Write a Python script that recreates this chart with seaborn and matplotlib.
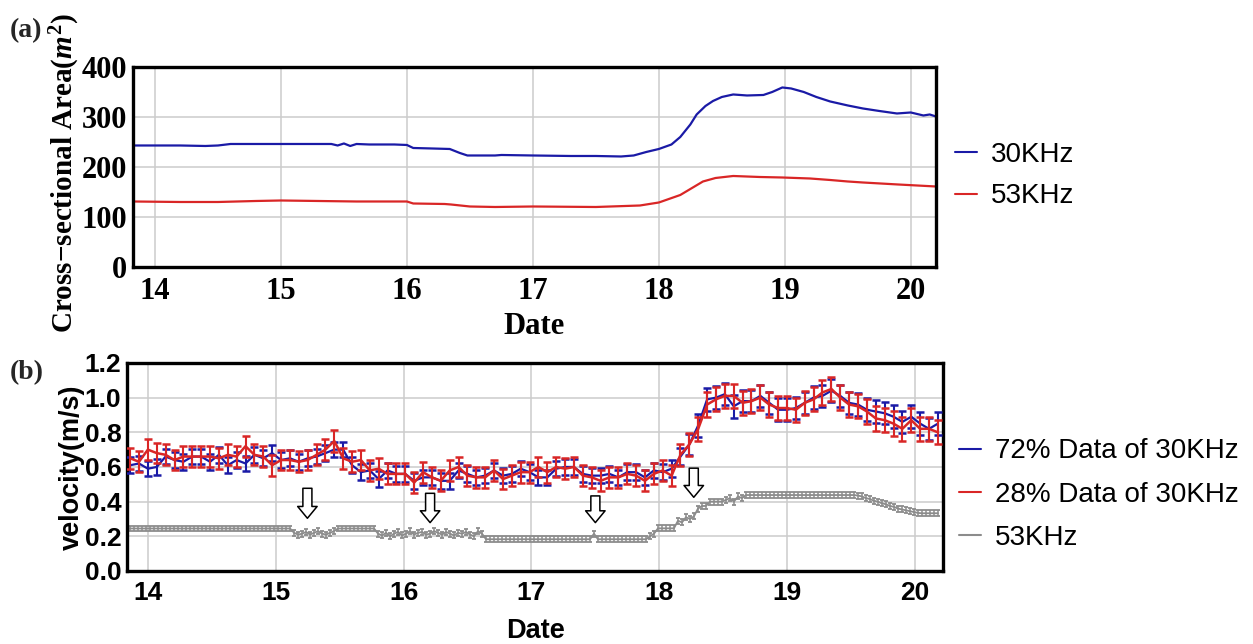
import numpy as np
import pandas as pd
import matplotlib
matplotlib.use("Agg")
import matplotlib.pyplot as plt
from matplotlib.font_manager import FontProperties
from matplotlib.lines import Line2D
import seaborn as sns

# ---------------- data: panel (a) cross-sectional area ----------------
area_day_30 = [13.83, 14.0, 14.2, 14.4, 14.5, 14.6, 14.8, 15.0, 15.2, 15.4, 15.45, 15.5, 15.55,
               15.6, 15.7, 15.9, 16.0, 16.05, 16.2, 16.34, 16.42, 16.48, 16.7, 16.75, 17.0, 17.3,
               17.5, 17.7, 17.8, 17.9, 18.0, 18.1, 18.17, 18.25, 18.3, 18.37, 18.43, 18.5, 18.59,
               18.7, 18.83, 18.9, 18.98, 19.05, 19.15, 19.25, 19.36, 19.5, 19.62, 19.75, 19.89,
               20.0, 20.1, 20.15, 20.2]
area_30 = [243, 243, 243, 242, 243, 246, 246, 246, 246, 246, 243, 247, 242,
           246, 245, 245, 244, 238, 237, 236, 228, 223, 223, 224, 223, 222,
           222, 221, 223, 230, 236, 245, 260, 285, 305, 322, 332, 340, 345,
           343, 344, 350, 359, 357, 350, 340, 331, 323, 317, 312, 307,
           309, 303, 305, 301]

area_day_53 = [13.83, 14.2, 14.5, 14.8, 15.0, 15.3, 15.6, 16.0, 16.05, 16.3, 16.35, 16.5, 16.7,
               17.0, 17.5, 17.85, 18.0, 18.17, 18.35, 18.45, 18.59, 18.8, 18.98, 19.2, 19.36,
               19.5, 19.62, 19.9, 20.2]
area_53 = [131, 130, 130, 132, 133, 132, 131, 131, 127, 126, 125, 121, 120,
           121, 120, 123, 129, 144, 171, 178, 182, 180, 179, 177, 174,
           171, 169, 165, 161]

# ---------------- data: panel (b) velocity ----------------
vel_start, vel_end = 13.86, 20.18
vel_72 = [0.61, 0.62, 0.59, 0.60, 0.66, 0.64, 0.63, 0.66, 0.66, 0.63, 0.67, 0.61, 0.64, 0.62,
          0.67, 0.65, 0.68, 0.64, 0.65, 0.63, 0.65, 0.66, 0.68, 0.70,
          0.70, 0.61, 0.57, 0.58, 0.53, 0.58, 0.56, 0.56, 0.52, 0.54, 0.54, 0.52, 0.52, 0.58,
          0.56, 0.54, 0.55, 0.58, 0.55, 0.56, 0.59, 0.57, 0.54,
          0.54, 0.59, 0.60, 0.60, 0.56, 0.55, 0.55, 0.56, 0.54, 0.57, 0.57, 0.54, 0.58, 0.57,
          0.59, 0.66, 0.73, 0.84, 0.99, 1.00, 1.02, 0.95, 0.98,
          0.98, 1.01, 0.97, 0.93, 0.93, 0.94, 0.97, 1.00, 1.01, 1.04, 1.01, 0.97, 0.96, 0.93,
          0.92, 0.91, 0.89, 0.86, 0.89, 0.85, 0.82, 0.85]
err_72 = [0.045, 0.045, 0.045, 0.045, 0.045, 0.045, 0.045, 0.045, 0.045, 0.045, 0.045, 0.045,
          0.045, 0.045, 0.045, 0.045, 0.045, 0.045, 0.045, 0.045, 0.045, 0.045, 0.045, 0.045,
          0.045, 0.045, 0.045, 0.045, 0.045, 0.045, 0.045, 0.045, 0.045, 0.045, 0.045, 0.045,
          0.045, 0.045, 0.045, 0.045, 0.045, 0.045, 0.045, 0.045, 0.045, 0.045, 0.045, 0.045,
          0.045, 0.045, 0.045, 0.045, 0.045, 0.045, 0.045, 0.045, 0.045, 0.045, 0.045, 0.045,
          0.045, 0.05, 0.05, 0.06, 0.065, 0.065, 0.065, 0.065, 0.065, 0.065, 0.065, 0.065,
          0.065, 0.065, 0.065, 0.065, 0.065, 0.065, 0.065, 0.065, 0.065, 0.065, 0.065, 0.065,
          0.065, 0.065, 0.065, 0.065, 0.065, 0.065, 0.065, 0.065]
vel_28 = [0.65, 0.63, 0.70, 0.68, 0.67, 0.64, 0.66, 0.66, 0.66, 0.66, 0.65, 0.67, 0.66, 0.72,
          0.67, 0.66, 0.61, 0.64, 0.64, 0.63, 0.64, 0.67, 0.70, 0.75,
          0.65, 0.63, 0.64, 0.58, 0.59, 0.56, 0.56, 0.56, 0.51, 0.57, 0.54, 0.52, 0.58, 0.60,
          0.55, 0.54, 0.54, 0.58, 0.53, 0.55, 0.57, 0.57, 0.60,
          0.57, 0.60, 0.59, 0.60, 0.55, 0.54, 0.52, 0.54, 0.54, 0.56, 0.55, 0.52, 0.56, 0.58,
          0.55, 0.67, 0.73, 0.82, 0.96, 0.99, 1.01, 1.01, 0.97,
          0.98, 1.00, 0.96, 0.94, 0.94, 0.93, 0.97, 0.99, 1.03, 1.05, 1.00, 0.96, 0.95, 0.92,
          0.88, 0.87, 0.85, 0.82, 0.87, 0.82, 0.82, 0.80]
err_28 = [0.06, 0.06, 0.06, 0.06, 0.06, 0.06, 0.06, 0.06, 0.06, 0.06, 0.06, 0.06,
          0.06, 0.06, 0.06, 0.06, 0.06, 0.06, 0.06, 0.06, 0.06, 0.06, 0.06, 0.065,
          0.06, 0.06, 0.06, 0.06, 0.06, 0.06, 0.06, 0.06, 0.06, 0.06, 0.06, 0.06,
          0.06, 0.06, 0.06, 0.06, 0.06, 0.06, 0.06, 0.06, 0.06, 0.06, 0.06, 0.06,
          0.06, 0.06, 0.06, 0.06, 0.06, 0.06, 0.06, 0.06, 0.06, 0.06, 0.06, 0.06,
          0.06, 0.06, 0.065, 0.065, 0.07, 0.07, 0.07, 0.07, 0.07, 0.07, 0.07, 0.07,
          0.07, 0.07, 0.07, 0.07, 0.07, 0.07, 0.07, 0.07, 0.07, 0.07, 0.07, 0.07,
          0.07, 0.07, 0.07, 0.07, 0.07, 0.07, 0.07, 0.07]

vel_53 = [0.245, 0.245, 0.245, 0.245, 0.245, 0.245, 0.245, 0.245, 0.245, 0.245,
          0.245, 0.245, 0.245, 0.245, 0.245, 0.245, 0.245, 0.245, 0.245, 0.245,
          0.245, 0.245, 0.245, 0.245, 0.245, 0.245, 0.245, 0.245, 0.245, 0.245,
          0.245, 0.245, 0.245, 0.245, 0.245, 0.245, 0.245, 0.245, 0.245, 0.245,
          0.245,
          0.22, 0.21, 0.215, 0.225, 0.21, 0.22, 0.23, 0.215, 0.21, 0.22, 0.23,
          0.245, 0.245, 0.245, 0.245, 0.245, 0.245, 0.245, 0.245, 0.245, 0.245,
          0.215, 0.205, 0.22, 0.20, 0.215, 0.225, 0.205, 0.215, 0.23, 0.21,
          0.22, 0.225, 0.21, 0.215, 0.23, 0.22, 0.21, 0.225, 0.215, 0.205,
          0.22, 0.215, 0.225, 0.21, 0.20, 0.23, 0.215,
          0.183, 0.183, 0.183, 0.183, 0.183, 0.183, 0.183, 0.183, 0.183, 0.183,
          0.183, 0.183, 0.183, 0.183, 0.183, 0.183, 0.183, 0.183, 0.183, 0.183,
          0.183, 0.183, 0.183, 0.183, 0.183, 0.183, 0.183,
          0.215,
          0.183, 0.183, 0.183, 0.183, 0.183, 0.183, 0.183, 0.183, 0.183, 0.183,
          0.183, 0.183, 0.183,
          0.20, 0.215,
          0.246, 0.246, 0.246, 0.246, 0.246,
          0.29, 0.28, 0.31, 0.30, 0.315,
          0.36, 0.375, 0.375,
          0.40, 0.40, 0.40, 0.40,
          0.41, 0.42, 0.40, 0.43, 0.42,
          0.438, 0.438, 0.438, 0.438, 0.438, 0.438, 0.438, 0.438, 0.438, 0.438,
          0.438, 0.438, 0.438, 0.438, 0.438, 0.438, 0.438, 0.438, 0.438, 0.438,
          0.438, 0.438, 0.438, 0.438, 0.438, 0.438, 0.438, 0.438,
          0.435, 0.43, 0.42, 0.415, 0.405, 0.40, 0.39, 0.385, 0.375, 0.37,
          0.36, 0.355, 0.35, 0.345, 0.34, 0.335,
          0.333, 0.333, 0.333, 0.333, 0.333]
err_53 = 0.017

# arrows: (day, top velocity, tip velocity)
arrow_day = [15.247, 16.207, 17.50, 18.27]
arrow_top = [0.477, 0.448, 0.433, 0.593]
arrow_tip = [0.304, 0.279, 0.279, 0.425]

labels_a = ["30KHz", "53KHz"]
labels_b = ["72% Data of 30KHz", "28% Data of 30KHz", "53KHz"]

# ---------------- style ----------------
C_BLUE = "#1a1aa6"
C_RED = "#d92626"
C_GRAY = "#8c8c8c"
C_GRID = "#cccccc"

sns.set_theme(style="white")
plt.rcParams["font.family"] = ["Liberation Sans", "DejaVu Sans"]
plt.rcParams["mathtext.fontset"] = "custom"
plt.rcParams["mathtext.rm"] = "Liberation Serif:bold"
plt.rcParams["mathtext.bf"] = "Liberation Serif:bold"
plt.rcParams["mathtext.it"] = "Liberation Serif:italic:bold"

fp_times = FontProperties(family="Liberation Serif", weight="bold", size=22)
fp_times_lab = FontProperties(family="Liberation Serif", weight="bold", size=21)
fp_arial = FontProperties(family="Liberation Sans", weight="bold", size=19)
fp_arial_lab = FontProperties(family="Liberation Sans", weight="bold", size=19.5)
fp_leg = FontProperties(family="Liberation Sans", weight="normal", size=20)

fig = plt.figure(figsize=(12.53, 6.44), dpi=100)
ax1 = fig.add_axes([0.1061, 0.5854, 0.6409, 0.3106])
ax2 = fig.add_axes([0.1014, 0.1134, 0.6512, 0.3230])

# ---------------- panel (a) ----------------
df_a = pd.DataFrame({
    "Date": area_day_30 + area_day_53,
    "Area": area_30 + area_53,
    "Series": [labels_a[0]] * len(area_30) + [labels_a[1]] * len(area_53),
})
sns.lineplot(data=df_a, x="Date", y="Area", hue="Series",
             palette={labels_a[0]: C_BLUE, labels_a[1]: C_RED},
             estimator=None, linewidth=1.6, legend=False, ax=ax1)
ax1.set_xlim(13.825, 20.2)
ax1.set_ylim(0, 400)
ax1.set_xticks(range(14, 21))
ax1.set_yticks(range(0, 401, 100))

# ---------------- panel (b) ----------------
day_b = np.linspace(vel_start, vel_end, len(vel_72))
day_53 = np.linspace(vel_start, vel_end, len(vel_53))
df_b = pd.DataFrame({
    "Date": np.concatenate([day_53, day_b, day_b]),
    "Velocity": list(vel_53) + list(vel_72) + list(vel_28),
    "Series": [labels_b[2]] * len(vel_53) + [labels_b[0]] * len(vel_72) + [labels_b[1]] * len(vel_28),
})

ax2.errorbar(day_53, vel_53, yerr=err_53, fmt="none", ecolor=C_GRAY,
             elinewidth=1.1, capsize=1.5, capthick=1.3, zorder=2)
sns.lineplot(data=df_b[df_b.Series == labels_b[2]], x="Date", y="Velocity",
             color=C_GRAY, estimator=None, linewidth=1.3, legend=False, ax=ax2, zorder=2)

ax2.errorbar(day_b, vel_72, yerr=err_72, fmt="none", ecolor=C_BLUE,
             elinewidth=1.5, capsize=2.6, capthick=1.8, zorder=3)
sns.lineplot(data=df_b[df_b.Series == labels_b[0]], x="Date", y="Velocity",
             color=C_BLUE, estimator=None, linewidth=1.6, legend=False, ax=ax2, zorder=3)

ax2.errorbar(day_b, vel_28, yerr=err_28, fmt="none", ecolor=C_RED,
             elinewidth=1.5, capsize=2.6, capthick=1.8, zorder=4)
sns.lineplot(data=df_b[df_b.Series == labels_b[1]], x="Date", y="Velocity",
             color=C_RED, estimator=None, linewidth=1.8, legend=False, ax=ax2, zorder=4)

for xd, yt, yp in zip(arrow_day, arrow_top, arrow_tip):
    ax2.annotate("", xy=(xd, yp), xytext=(xd, yt),
                 arrowprops=dict(arrowstyle="simple,head_length=0.85,head_width=1.4,tail_width=0.65",
                                 fc="white", ec="black", lw=1.1, shrinkA=0, shrinkB=0,
                                 mutation_scale=10),
                 zorder=6)

ax2.set_xlim(13.836, 20.22)
ax2.set_ylim(0, 1.2)
ax2.set_xticks(range(14, 21))
ax2.set_yticks([0.0, 0.2, 0.4, 0.6, 0.8, 1.0, 1.2])
ax2.set_yticklabels(["0.0", "0.2", "0.4", "0.6", "0.8", "1.0", "1.2"])

# ---------------- common axis styling ----------------
for ax, fp in ((ax1, fp_times), (ax2, fp_arial)):
    ax.grid(True, color=C_GRID, linewidth=1.1)
    ax.set_axisbelow(True)
    for sp in ax.spines.values():
        sp.set_color("black")
        sp.set_linewidth(2.4)
    ax.tick_params(axis="both", length=0)
    ax.tick_params(axis="x", pad=7)
    ax.tick_params(axis="y", pad=4)
    for lab in ax.get_xticklabels() + ax.get_yticklabels():
        lab.set_fontproperties(fp)
        lab.set_color("black")

ax1.set_xlabel("Date", fontproperties=fp_times, color="black")
ax1.xaxis.set_label_coords(0.5, -0.225)
ax1.set_ylabel("Cross\u2212sectional Area($\\mathit{m}^{2}$)", fontproperties=fp_times_lab, color="black")
ax1.yaxis.set_label_coords(-0.064, 0.47)

ax2.set_xlabel("Date", fontproperties=fp_arial_lab, color="black")
ax2.xaxis.set_label_coords(0.5, -0.225)
ax2.set_ylabel("velocity(m/s)", fontproperties=fp_arial_lab, color="black")
ax2.yaxis.set_label_coords(-0.052, 0.5)

fig.text(0.008, 0.953, "(a)", fontproperties=FontProperties(family="Liberation Serif", weight="bold", size=20),
         va="center", ha="left")
fig.text(0.008, 0.422, "(b)", fontproperties=FontProperties(family="Liberation Serif", weight="bold", size=20),
         va="center", ha="left")

# ---------------- legends ----------------
h_a = [Line2D([], [], color=C_BLUE, lw=1.5), Line2D([], [], color=C_RED, lw=1.5)]
leg1 = ax1.legend(h_a, labels_a, loc="center left", bbox_to_anchor=(0.762, 0.727),
                  bbox_transform=fig.transFigure, frameon=False, prop=fp_leg,
                  handlelength=0.8, handletextpad=0.5, labelspacing=0.55,
                  borderpad=0, borderaxespad=0)
h_b = [Line2D([], [], color=C_BLUE, lw=1.5), Line2D([], [], color=C_RED, lw=1.5),
       Line2D([], [], color=C_GRAY, lw=1.5)]
leg2 = ax2.legend(h_b, labels_b, loc="center left", bbox_to_anchor=(0.765, 0.232),
                  bbox_transform=fig.transFigure, frameon=False, prop=fp_leg,
                  handlelength=0.8, handletextpad=0.5, labelspacing=0.62,
                  borderpad=0, borderaxespad=0)
for leg in (leg1, leg2):
    for t in leg.get_texts():
        t.set_color("black")

fig.savefig("out.png", dpi=100)
